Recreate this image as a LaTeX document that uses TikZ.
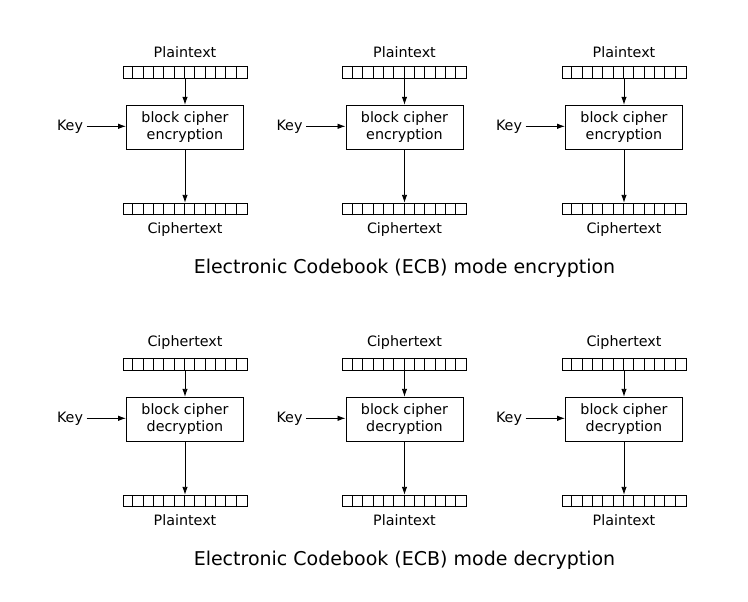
\documentclass[tikz,border=0pt]{standalone}
\usepackage{fontspec}
\setmainfont{DejaVu Sans}
\usetikzlibrary{arrows.meta,positioning}
\tikzset{
	databar/.style={draw, line width=1pt, minimum width=124pt, minimum height=11.6pt, inner sep=0pt},
	cipherbox/.style={draw, line width=1pt, minimum width=117pt, minimum height=44pt, inner sep=0pt, align=center},
	flow/.style={-{Latex[length=8pt,width=5.5pt]}, line width=0.9pt},
	lbl/.style={font=\fontsize{14.3}{17.4}\selectfont},
	heading/.style={font=\fontsize{19}{22}\selectfont},
}
% \ecbblock{name}{x}{y}{input}{output}{operation}
\def\ecbblock#1#2#3#4#5#6{
	\node[databar] (#1in) at (#2,#3) {};
	\foreach \k in {1,...,11} \draw[line width=1pt] ([xshift=\k*124pt/12]#1in.south west) -- ([xshift=\k*124pt/12]#1in.north west);
	\node[lbl, above=5pt of #1in] (#1inlbl) {#4};
	\node[cipherbox, lbl, below=26pt of #1in] (#1op) {block cipher\\#6};
	\node[databar, below=53pt of #1op] (#1out) {};
	\foreach \k in {1,...,11} \draw[line width=1pt] ([xshift=\k*124pt/12]#1out.south west) -- ([xshift=\k*124pt/12]#1out.north west);
	\node[lbl, below=3.7pt of #1out] (#1outlbl) {#5};
	\node[lbl, left=39.5pt of #1op, yshift=1pt] (#1key) {Key};
	\draw[flow] (#1in) -- (#1op);
	\draw[flow] (#1key) -- (#1key -| #1op.west);
	\draw[flow] (#1op) -- (#1out);
}

\begin{document}
\begin{tikzpicture}[x=1pt, y=-1pt]
	%%%%% START %%%%%
	\useasboundingbox[fill=white] (0, 0) rectangle (748, 602);
	
	% encryption
	\ecbblock{e1}{185}{72.5}{Plaintext}{Ciphertext}{encryption}
	\ecbblock{e2}{404.5}{72.5}{Plaintext}{Ciphertext}{encryption}
	\ecbblock{e3}{624}{72.5}{Plaintext}{Ciphertext}{encryption}
	\node[heading] (enctitle) at (404.5, 268) {Electronic Codebook (ECB) mode encryption};
	
	% decryption
	\ecbblock{d1}{185}{364.5}{Ciphertext}{Plaintext}{decryption}
	\ecbblock{d2}{404.5}{364.5}{Ciphertext}{Plaintext}{decryption}
	\ecbblock{d3}{624}{364.5}{Ciphertext}{Plaintext}{decryption}
	\node[heading] (dectitle) at (404.5, 560) {Electronic Codebook (ECB) mode decryption};
	
	%%%%% END %%%%%
\end{tikzpicture}
\end{document}
